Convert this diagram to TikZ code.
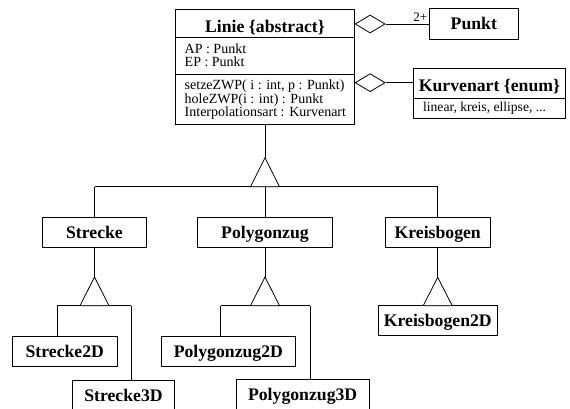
\documentclass[tikz,border=0pt]{standalone}
\usepackage{fontspec}
\setmainfont{Liberation Serif}
\usetikzlibrary{shapes.geometric}
\begin{document}
\begin{tikzpicture}[x=1pt,y=-1pt,line width=0.8pt,
  cls/.style={draw, rectangle, inner sep=0pt, minimum height=30pt,
    text height=12pt, text depth=0pt,
    font=\fontsize{17.7}{20}\selectfont\bfseries},
  boxframe/.style={draw, rectangle, inner sep=0pt},
  title/.style={anchor=base, inner sep=0pt, font=\fontsize{17.7}{20}\selectfont\bfseries},
  attr/.style={anchor=base west, inner sep=0pt, font=\fontsize{14}{16}\selectfont},
  agg/.style={draw, diamond, inner sep=0pt, minimum width=30pt, minimum height=18pt,
    anchor=west, fill=white},
  gentri/.style={draw, fill=white}
]
\useasboundingbox (0,0) rectangle (570,409);

% ---- class Linie with two compartments ----
\node[boxframe, minimum width=178.6pt, minimum height=115.7pt] (linie) at (265,66.85) {};
\draw (linie.west |- 0,37.3) -- (linie.east |- 0,37.3);
\draw (linie.west |- 0,74) -- (linie.east |- 0,74);
\node[title] (linieT) at (265,33) {Linie \{abstract\}};
\node[attr] (ap)  at (184.3,53.3)  {AP : Punkt};
\node[attr] (ep)  at (184.3,66.7)  {EP : Punkt};
\node[attr] (op1) at (184.3,90)    {setzeZWP( i : int, p : Punkt)};
\node[attr] (op2) at (184.3,103.3) {holeZWP(i : int) : Punkt};
\node[attr] (op3) at (184.3,116.7) {Interpolationsart : Kurvenart};

% ---- class Punkt ----
\node[cls, minimum width=89pt, minimum height=30.7pt] (punkt) at (473.8,23.65) {Punkt};

% ---- enumeration Kurvenart ----
\node[boxframe, minimum width=152.4pt, minimum height=49.7pt] (kurve) at (489.5,93.15) {};
\draw (kurve.west |- 0,98.3) -- (kurve.east |- 0,98.3);
\node[title] (kurveT) at (489.5,91.7) {Kurvenart \{enum\}};
\node[anchor=base west, inner sep=0pt, font=\fontsize{13.6}{15}\selectfont] (kurveL)
  at (422.7,112) {linear, kreis, ellipse, ...};

% ---- aggregations ----
\node[agg] (dia1) at (linie.east |- 0,24) {};
\node[agg] (dia2) at (linie.east |- 0,82.7) {};
\draw (dia1.east) -- (dia1.east -| punkt.west);
\draw (dia2.east) -- (dia2.east -| kurve.west);
\node[anchor=base east, inner sep=0pt, font=\fontsize{13}{15}\selectfont] (mult)
  at (427.5,21.5) {2+};

% ---- subclasses of Linie ----
\node[cls, minimum width=104.4pt] (strecke) at (94.5,232) {Strecke};
\node[cls, minimum width=134.6pt] (poly)    at (265,232)  {Polygonzug};
\node[cls, minimum width=104.7pt] (kreis)   at (437.7,232) {Kreisbogen};

% ---- third level ----
\node[cls, minimum width=105pt]   (s2) at (64.8,351)   {Strecke2D};
\node[cls, minimum width=101.6pt] (s3) at (123.5,395)  {Strecke3D};
\node[cls, minimum width=133.3pt] (p2) at (228.35,351) {Polygonzug2D};
\node[cls, minimum width=133.3pt] (p3) at (302.65,394.5) {Polygonzug3D};
\node[cls, minimum width=119pt]   (k2) at (437.8,320.7) {Kreisbogen2D};

% ---- generalization: Linie ----
\coordinate (a0) at (265,157.7);
\coordinate (b0) at (265,186.7);
\draw (linie.south) -- (a0);
\draw (b0 -| strecke.north) -- (b0 -| kreis.north);
\draw (b0 -| strecke.north) -- (strecke.north);
\draw (b0) -- (poly.north);
\draw (b0 -| kreis.north) -- (kreis.north);
\draw[gentri] (a0) -- ++(14.5,29) -- ++(-29,0) -- cycle;

% ---- generalization: Strecke ----
\coordinate (a1) at (94.5,277);
\coordinate (sb1) at (57,305.7);
\coordinate (sb2) at (131.3,305.7);
\draw (strecke.south) -- (a1);
\draw (sb1) -- (sb2);
\draw (sb1) -- (sb1 |- s2.north);
\draw (sb2) -- (sb2 |- s3.north);
\draw[gentri] (a1) -- ++(14.5,28.7) -- ++(-29,0) -- cycle;

% ---- generalization: Polygonzug ----
\coordinate (a2) at (265,277);
\coordinate (pb1) at (220.7,305.7);
\coordinate (pb2) at (310,305.7);
\draw (poly.south) -- (a2);
\draw (pb1) -- (pb2);
\draw (pb1) -- (pb1 |- p2.north);
\draw (pb2) -- (pb2 |- p3.north);
\draw[gentri] (a2) -- ++(14.5,28.7) -- ++(-29,0) -- cycle;

% ---- generalization: Kreisbogen ----
\coordinate (a3) at (437.7,277.3);
\draw (kreis.south) -- (a3);
\draw[gentri] (a3) -- ++(14.5,28.4) -- ++(-29,0) -- cycle;
\end{tikzpicture}
\end{document}
